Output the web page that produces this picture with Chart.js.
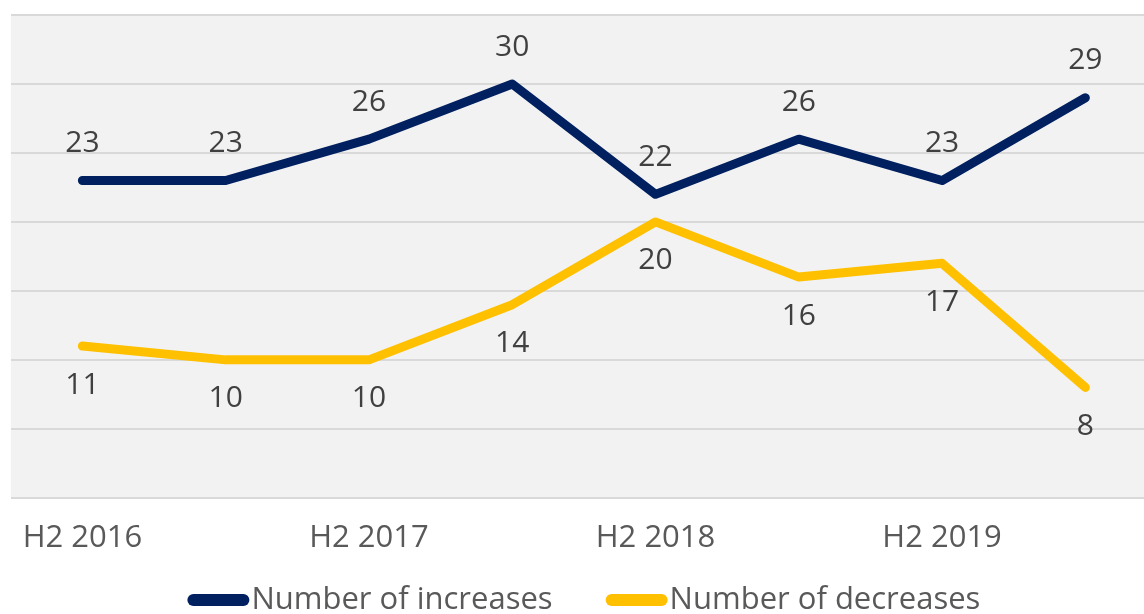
<!DOCTYPE html>
<html>
<head>
<meta charset="utf-8">
<script src="https://cdn.jsdelivr.net/npm/chart.js@4.4.1/dist/chart.umd.min.js"></script>
<style>
    html, body { margin: 0; padding: 0; background: #fff; overflow: hidden; }
    #wrap { width: 1158px; height: 614px; }
</style>
</head>
<body>
<div id="wrap"><canvas id="trendChart"></canvas></div>
<script>
// Données
const categories = ['H2 2016', 'H1 2017', 'H2 2017', 'H1 2018', 'H2 2018', 'H1 2019', 'H2 2019', 'H1 2020'];
const shownLabels = ['H2 2016', '', 'H2 2017', '', 'H2 2018', '', 'H2 2019', ''];
const increases = [23, 23, 26, 30, 22, 26, 23, 29];
const decreases = [11, 10, 10, 14, 20, 16, 17, 8];
const yTicks = [0, 5, 10, 15, 20, 25, 30, 35];

const FONT = '"Open Sans", Lato, sans-serif';
const NAVY = '#002060';
const GOLD = '#ffc000';

// Fond gris de la zone de tracé
const plotBackground = {
    id: 'plotBackground',
    beforeDraw(chart) {
        const { ctx, chartArea } = chart;
        ctx.save();
        ctx.fillStyle = '#f2f2f2';
        ctx.fillRect(chartArea.left, chartArea.top, chartArea.right - chartArea.left, chartArea.bottom - chartArea.top);
        ctx.restore();
    }
};

// Étiquettes de valeurs (au-dessus pour les hausses, en dessous pour les baisses)
const valueLabels = {
    id: 'valueLabels',
    afterDatasetsDraw(chart) {
        const { ctx } = chart;
        ctx.save();
        ctx.font = '30px ' + FONT;
        ctx.fillStyle = '#404040';
        ctx.textAlign = 'center';
        ctx.textBaseline = 'middle';
        chart.data.datasets.forEach((ds, i) => {
            const meta = chart.getDatasetMeta(i);
            const offset = ds.labelPos === 'above' ? -37 : 39;
            meta.data.forEach((pt, j) => {
                ctx.fillText(String(ds.data[j]), pt.x, pt.y + offset);
            });
        });
        ctx.restore();
    }
};

// Légende dessinée à la main (trait collé au texte)
const lineLegend = {
    id: 'lineLegend',
    afterDraw(chart) {
        const { ctx, chartArea } = chart;
        const swatch = 62, gapText = 2, gapItem = 53, y = 600;
        ctx.save();
        ctx.font = '31px ' + FONT;
        const items = chart.data.datasets.map(ds => ({
            label: ds.label, color: ds.borderColor, w: ctx.measureText(ds.label).width
        }));
        let total = items.reduce((s, it) => s + swatch + gapText + it.w, 0) + gapItem * (items.length - 1);
        let x = (chartArea.left + chartArea.right) / 2 - total / 2;
        items.forEach(it => {
            ctx.strokeStyle = it.color;
            ctx.lineWidth = 12;
            ctx.lineCap = 'round';
            ctx.beginPath();
            ctx.moveTo(x + 6, y);
            ctx.lineTo(x + swatch - 6, y);
            ctx.stroke();
            ctx.fillStyle = '#595959';
            ctx.textAlign = 'left';
            ctx.textBaseline = 'middle';
            ctx.fillText(it.label, x + swatch + gapText, y);
            x += swatch + gapText + it.w + gapItem;
        });
        ctx.restore();
    }
};

const ctx = document.getElementById('trendChart').getContext('2d');
new Chart(ctx, {
    type: 'line',
    data: {
        labels: categories,
        datasets: [
            {
                label: 'Number of increases',
                data: increases,
                borderColor: NAVY,
                backgroundColor: NAVY,
                borderWidth: 9,
                borderCapStyle: 'round',
                borderJoinStyle: 'round',
                pointRadius: 0,
                tension: 0,
                labelPos: 'above'
            },
            {
                label: 'Number of decreases',
                data: decreases,
                borderColor: GOLD,
                backgroundColor: GOLD,
                borderWidth: 9,
                borderCapStyle: 'round',
                borderJoinStyle: 'round',
                pointRadius: 0,
                tension: 0,
                labelPos: 'below'
            }
        ]
    },
    options: {
        responsive: true,
        maintainAspectRatio: false,
        animation: false,
        layout: { padding: { left: 10, top: 15, right: 1, bottom: 35 } },
        plugins: {
            legend: { display: false },
            tooltip: { enabled: false }
        },
        scales: {
            x: {
                offset: true,
                grid: { display: false, drawTicks: false },
                border: { display: false },
                ticks: {
                    autoSkip: false,
                    maxRotation: 0,
                    padding: 22,
                    color: '#595959',
                    font: { family: FONT, size: 31 },
                    callback: (v, i) => shownLabels[i]
                }
            },
            y: {
                min: yTicks[0],
                max: yTicks[yTicks.length - 1],
                afterBuildTicks: axis => { axis.ticks = yTicks.map(v => ({ value: v })); },
                grid: { color: '#d9d9d9', lineWidth: 2, drawTicks: false },
                border: { display: false },
                ticks: { display: false }
            }
        }
    },
    plugins: [plotBackground, valueLabels, lineLegend]
});
</script>
</body>
</html>
